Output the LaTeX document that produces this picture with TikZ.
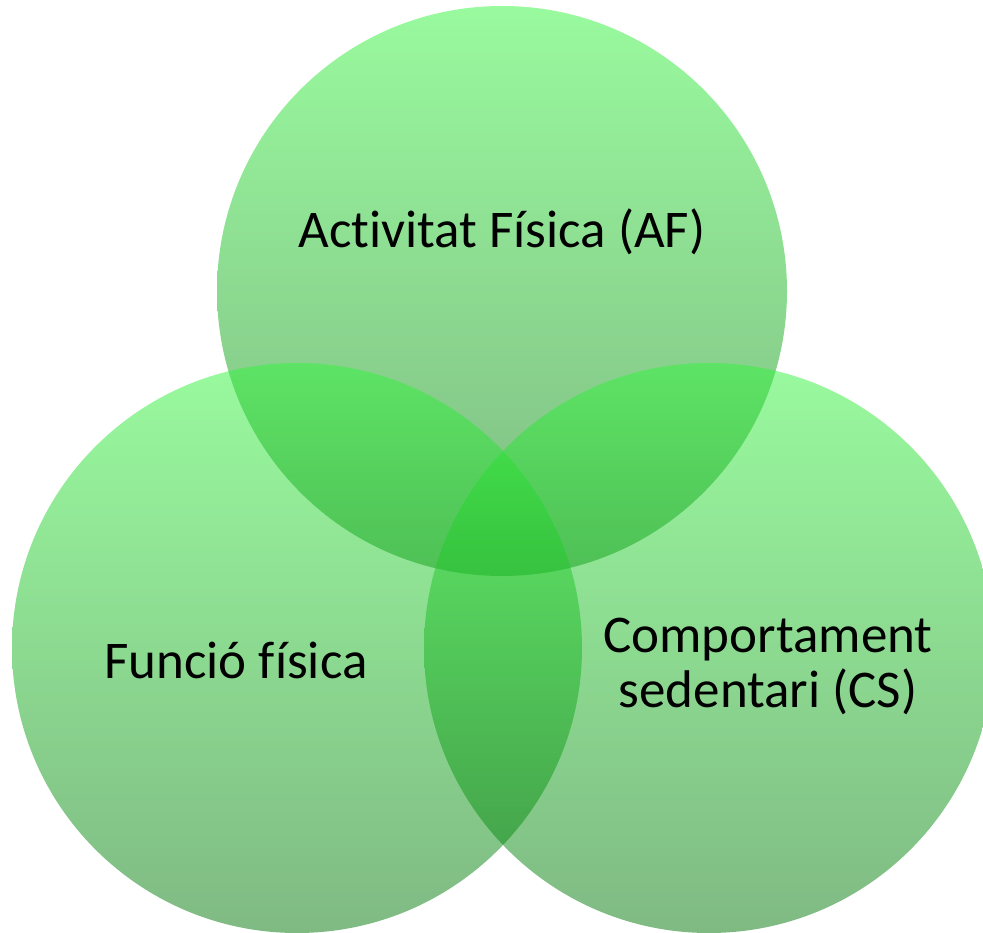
\documentclass[tikz,border=0pt]{standalone}
\usepackage{fontspec}
\setmainfont[Ligatures=NoCommon]{Carlito}
\definecolor{gtop}{RGB}{51,245,61}
\definecolor{gbot}{RGB}{0,117,8}
\tikzset{
  venn/.style={top color=gtop, bottom color=gbot, fill opacity=0.5, draw=none},
  lbl/.style={font=\fontsize{53}{58}\selectfont, text=black, align=center, inner sep=0pt, anchor=base}
}
\begin{document}
\begin{tikzpicture}[x=1pt,y=-1pt]
\useasboundingbox (0,0) rectangle (983,933);
\begin{scope}
\clip (0,0) rectangle (983,933);
\shade[venn] (502,291) circle[radius=285];
\shade[venn] (297,648) circle[radius=285];
\shade[venn] (709,648) circle[radius=285];
\end{scope}
\node[lbl] (af) at (502,248) {Activitat Física (AF)};
\node[lbl] (ff) at (236,678) {Funció física};
\node[lbl] (cs1) at (768,652) {Comportament};
\node[lbl] (cs2) at (768,707) {sedentari (CS)};
\end{tikzpicture}
\end{document}
